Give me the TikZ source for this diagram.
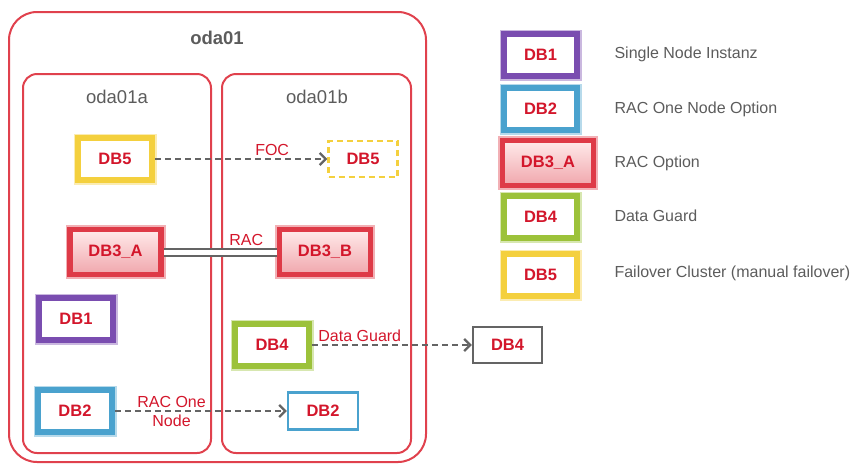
\documentclass[tikz,border=0pt]{standalone}
\usepackage{fontspec}
\setmainfont{Liberation Sans}
\usetikzlibrary{arrows.meta}

\definecolor{boxred}{HTML}{E0414D}
\definecolor{txtred}{HTML}{D3162B}
\definecolor{txtgray}{HTML}{5C5C5C}
\definecolor{dbpurple}{HTML}{7A4DB0}
\definecolor{dbblue}{HTML}{4AA2CE}
\definecolor{dbred}{HTML}{DE3A47}
\definecolor{dbgreen}{HTML}{9CC23A}
\definecolor{dbyellow}{HTML}{F4D03E}
\definecolor{linegray}{HTML}{646464}

\begin{document}
\begin{tikzpicture}[x=1pt,y=-1pt,
    db/.style={font=\fontsize{16.5}{19}\selectfont\bfseries, text=txtred,
      minimum width=74pt, minimum height=42pt, inner sep=0pt},
    glow/.style={db, draw=#1, fill=white, line width=5.5pt,
      preaction={draw=#1!40, line width=9pt}},
    thin/.style={db, draw=#1, fill=white, line width=2.2pt,
      minimum width=69pt, minimum height=36pt},
    racbox/.style={glow=dbred, top color=red!8, bottom color=dbred!45,
      minimum width=91pt, minimum height=45pt},
    flow/.style={draw=linegray, line width=2.4pt, dash pattern=on 6pt off 4pt,
      -{Straight Barb[length=6pt,width=12pt]}},
    lbl/.style={font=\fontsize{16}{19}\selectfont, text=txtred, inner sep=1pt},
    legtext/.style={font=\fontsize{16}{19}\selectfont, text=txtgray, anchor=west}]
  \useasboundingbox (0,0) rectangle (850,464);

  % server boxes
  \draw[boxred, line width=2pt, rounded corners=28pt] (9,12) rectangle (426,462);
  \draw[boxred, line width=2pt, rounded corners=14pt] (23,74) rectangle (211,453);
  \draw[boxred, line width=2pt, rounded corners=14pt] (222,74) rectangle (411,453);
  \node[font=\fontsize{18.5}{22}\selectfont\bfseries, text=txtgray] (oda01) at (217,38) {oda01};
  \node[font=\fontsize{18.5}{22}\selectfont, text=txtgray] (oda01a) at (117,97) {oda01a};
  \node[font=\fontsize{18.5}{22}\selectfont, text=txtgray] (oda01b) at (317,97) {oda01b};

  % databases
  \node[glow=dbyellow] (db5a) at (115,159) {DB5};
  \node[thin=dbyellow, dashed, dash pattern=on 6pt off 4pt] (db5b) at (363,159) {DB5};
  \node[racbox] (db3a) at (115.5,252) {DB3\_A};
  \node[racbox] (db3b) at (325,252) {DB3\_B};
  \node[glow=dbpurple] (db1) at (76,319) {DB1};
  \node[glow=dbgreen] (db4a) at (272,345) {DB4};
  \node[thin=linegray] (db4b) at (507.5,345) {DB4};
  \node[glow=dbblue] (db2a) at (75,411) {DB2};
  \node[thin=dbblue, minimum width=70pt, minimum height=37pt] (db2b) at (323,411) {DB2};

  % connections
  \draw[flow] (db5a) -- node[lbl, pos=0.68, above=1pt] {FOC} (db5b);
  \draw[linegray, line width=2pt, double, double distance=5pt] (db3a) -- node[lbl, pos=0.73, above=4pt] {RAC} (db3b);
  \draw[flow] (db4a) -- node[lbl, pos=0.3, above=1pt] {Data Guard} (db4b);
  \draw[flow] (db2a) -- node[lbl, pos=0.33, align=center, font=\fontsize{16}{19}\selectfont] {RAC One\\Node} (db2b);

  % legend
  \node[glow=dbpurple, minimum width=73pt] (leg1) at (540.5,55) {DB1};
  \node[glow=dbblue, minimum width=73pt] (leg2) at (540.5,109) {DB2};
  \node[racbox] (leg3) at (548,163) {DB3\_A};
  \node[glow=dbgreen, minimum width=73pt] (leg4) at (540.5,217) {DB4};
  \node[glow=dbyellow, minimum width=73pt] (leg5) at (540.5,275) {DB5};
  \node[legtext] (txt1) at (611,54) {Single Node Instanz};
  \node[legtext] (txt2) at (611,109) {RAC One Node Option};
  \node[legtext] (txt3) at (611,163) {RAC Option};
  \node[legtext] (txt4) at (611,216) {Data Guard};
  \node[legtext] (txt5) at (611,273) {Failover Cluster (manual failover)};
\end{tikzpicture}
\end{document}
